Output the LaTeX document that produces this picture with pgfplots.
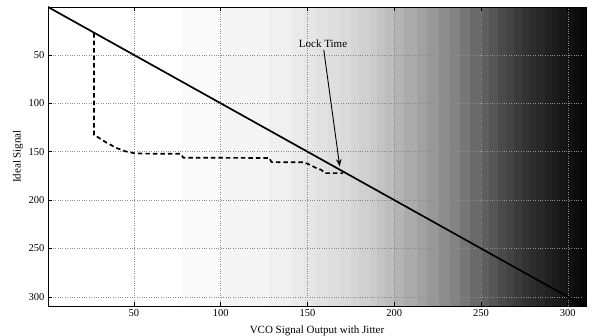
\documentclass[border=0pt]{standalone}
\usepackage{pgfplots}
\usepackage{pgfplotstable}
\pgfplotsset{compat=1.18}
\usepackage{fontspec}
\setmainfont{Liberation Serif}
\usetikzlibrary{arrows.meta}
\pgfplotstableread{
x y g
0.5 0.5 1
78 0.5 0.973
101 0.5 0.953
128 0.5 0.933
141 0.5 0.91
148 0.5 0.895
155 0.5 0.88
162 0.5 0.865
169 0.5 0.85
175 0.5 0.83
180 0.5 0.81
186 0.5 0.79
190 0.5 0.765
195 0.5 0.735
200 0.5 0.70
206 0.5 0.665
213 0.5 0.63
219 0.5 0.59
226 0.5 0.55
232 0.5 0.51
238 0.5 0.46
244 0.5 0.41
250 0.5 0.37
255 0.5 0.33
260 0.5 0.29
265 0.5 0.26
269 0.5 0.23
274 0.5 0.20
278 0.5 0.175
282 0.5 0.155
287 0.5 0.13
291 0.5 0.11
295 0.5 0.09
299 0.5 0.07
303 0.5 0.05
307 0.5 0.03
310.5 0.5 0
0.5 309.5 1
78 309.5 0.973
101 309.5 0.953
128 309.5 0.933
141 309.5 0.91
148 309.5 0.895
155 309.5 0.88
162 309.5 0.865
169 309.5 0.85
175 309.5 0.83
180 309.5 0.81
186 309.5 0.79
190 309.5 0.765
195 309.5 0.735
200 309.5 0.70
206 309.5 0.665
213 309.5 0.63
219 309.5 0.59
226 309.5 0.55
232 309.5 0.51
238 309.5 0.46
244 309.5 0.41
250 309.5 0.37
255 309.5 0.33
260 309.5 0.29
265 309.5 0.26
269 309.5 0.23
274 309.5 0.20
278 309.5 0.175
282 309.5 0.155
287 309.5 0.13
291 309.5 0.11
295 309.5 0.09
299 309.5 0.07
303 309.5 0.05
307 309.5 0.03
310.5 309.5 0
}\bgtable
\begin{document}
\begin{tikzpicture}
\begin{axis}[
  set layers,
  scale only axis, width=538pt, height=299pt,
  xmin=0.5, xmax=310.5, ymin=0.5, ymax=309.5,
  y dir=reverse,
  xtick={50,100,...,300}, ytick={50,100,...,300},
  tick align=inside, major tick length=4pt,
  tick style={black, line width=0.6pt},
  grid=major, grid style={dotted, black!45, line width=0.5pt},
  axis line style={line width=0.8pt},
  colormap={bw}{gray(0cm)=(0); gray(1cm)=(1)},
  point meta min=0, point meta max=1,
  /pgf/number format/assume math mode=true,
  ticklabel style={font=\fontsize{10.5}{12}\selectfont},
  label style={font=\fontsize{11}{13}\selectfont},
  xlabel={VCO Signal Output with Jitter},
  ylabel={Ideal Signal},
  xlabel style={at={(axis description cs:0.5,0)}, anchor=base, yshift=-27pt},
  ylabel style={at={(axis description cs:-0.0558,0.5)}, anchor=center},
]
% background gradient (gray level per column band)
\addplot[surf, shader=flat corner, mesh/cols=37, mesh/rows=2, on layer=axis background,
  point meta=explicit] table[x=x, y=y, meta=g] {\bgtable};
% ideal signal
\addplot[black, line width=1.7pt] coordinates {(0,0) (310,310)};
% VCO output with jitter
\addplot[black, line width=1.7pt, dash pattern=on 4.5pt off 3pt] coordinates {
(27,27.5) (27,132.6) (28.7,134.4) (34,140.5) (40.2,146.4) (45,149.6) (49.8,151.5)
(55,152) (77,152.2) (78.5,156.3) (128,156.5) (129.3,160.8) (147.3,161)
(150.3,162.6) (155.2,167) (158,168.8) (160,172.2) (170.5,172.2)
};
\node[font=\fontsize{11}{13}\selectfont] at (axis cs:159,38) {Lock Time};
\draw[-{Stealth[length=7.5pt,width=5.5pt]}, line width=0.9pt] (axis cs:159.4,44.8) -- (axis cs:168.6,165.4);
\end{axis}
\pgfresetboundingbox
\path[use as bounding box] ([shift={(-48pt,-29pt)}]current axis.south west) rectangle ([shift={(6pt,7pt)}]current axis.north east);
\end{tikzpicture}
\end{document}
